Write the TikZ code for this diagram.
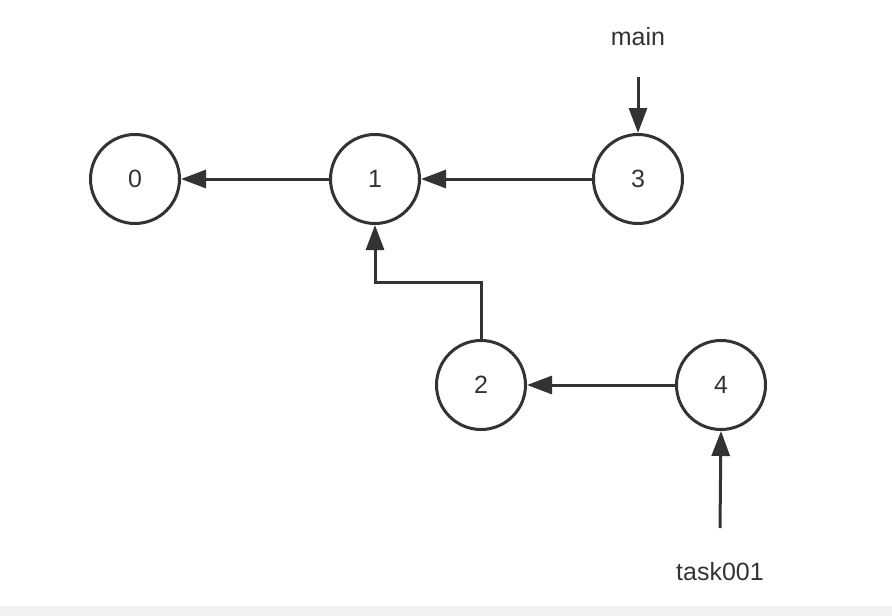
\documentclass[tikz,border=0pt]{standalone}
\usepackage{fontspec}
\setmainfont{Liberation Sans}
\usetikzlibrary{arrows.meta}
\definecolor{ink}{HTML}{333333}
\definecolor{strip}{HTML}{F2F2F2}
\tikzset{
  vtx/.style={circle,draw=ink,line width=3pt,minimum size=89pt,inner sep=0pt,text=ink,font=\fontsize{25}{28}\selectfont},
  lbl/.style={text=ink,font=\fontsize{25}{28}\selectfont,inner sep=0pt},
  link/.style={draw=ink,line width=3pt,-{Triangle[length=25pt,width=18pt]}}
}
\begin{document}
\begin{tikzpicture}[x=1pt,y=-1pt]
\useasboundingbox (0,0) rectangle (892,616);
\fill[strip] (0,606) rectangle (892,616);
\node[vtx] (n0) at (135,179) {0};
\node[vtx] (n1) at (375,179) {1};
\node[vtx] (n3) at (638,179) {3};
\node[vtx] (n2) at (481,385) {2};
\node[vtx] (n4) at (721,385) {4};
\node[lbl] (main) at (638,37) {main};
\node[lbl] (task) at (720,572) {task001};
\coordinate (ms) at (638,77);
\coordinate (ts) at (720,528);
\coordinate (bend) at (481,282);
\draw[link] (n1) -- (n0);
\draw[link] (n3) -- (n1);
\draw[link] (n4) -- (n2);
\draw[link] (ms) -- (n3.north);
\draw[link] (ts) -- (n4.south);
\draw[link] (n2.north) -- (bend) -| (n1.south);
\end{tikzpicture}
\end{document}
